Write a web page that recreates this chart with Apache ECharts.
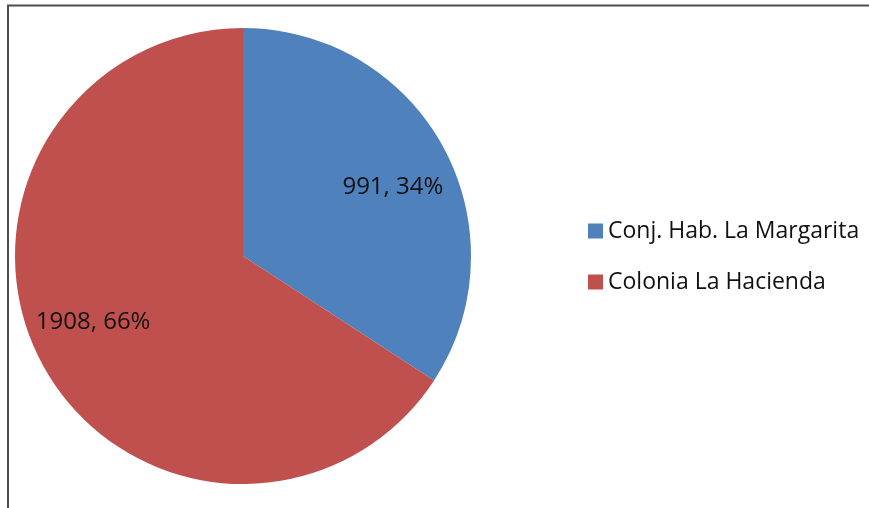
<!DOCTYPE html>
<html>
<head>
<meta charset="utf-8">
<script src="https://cdn.jsdelivr.net/npm/echarts@6/dist/echarts.min.js"></script>
<style>
  html, body { margin: 0; padding: 0; background: #fff; overflow: hidden; }
  #chart { width: 869px; height: 508px; }
</style>
</head>
<body>
<div id="chart"></div>
<script>
// data
const categories = ['Conj. Hab. La Margarita', 'Colonia La Hacienda'];
const values = [991, 1908];
const colors = ['#4F81BD', '#C0504D'];
// nudges for the inside labels (Excel puts them further out than ECharts does)
const labelShift = [[47, -13], [-47, 10]];

document.addEventListener('DOMContentLoaded', function () {
    const chart = echarts.init(document.getElementById('chart'));
    const total = values.reduce((s, v) => s + v, 0);

    const option = {
        animation: false,
        backgroundColor: '#fff',
        color: colors,
        graphic: [
            {
                type: 'rect',
                shape: { x: 8, y: 5.5, width: 1000, height: 1000 },
                style: { fill: 'none', stroke: '#4d4d4d', lineWidth: 2 },
                silent: true
            }
        ],
        legend: {
            orient: 'vertical',
            left: 588,
            top: 219,
            padding: 0,
            itemWidth: 15,
            itemHeight: 15,
            itemGap: 27,
            itemTextGap: 4,
            itemStyle: { borderWidth: 0 },
            icon: 'rect',
            textStyle: { fontFamily: 'Open Sans', fontSize: 23, lineHeight: 24, color: '#111' },
            data: categories
        },
        series: [
            {
                type: 'pie',
                center: [243, 256],
                radius: 228,
                startAngle: 90,
                clockwise: true,
                label: {
                    show: true,
                    position: 'inside',
                    fontFamily: 'Open Sans',
                    fontSize: 24,
                    color: '#111',
                    formatter: p => p.value + ', ' + Math.round(p.value / total * 100) + '%'
                },
                labelLine: { show: false },
                labelLayout: function (params) {
                    const s = labelShift[params.dataIndex];
                    return { dx: s[0], dy: s[1] };
                },
                itemStyle: { borderWidth: 0 },
                emphasis: { disabled: true },
                data: categories.map((name, i) => ({ name: name, value: values[i] }))
            }
        ]
    };

    chart.setOption(option);
});
</script>
</body>
</html>
